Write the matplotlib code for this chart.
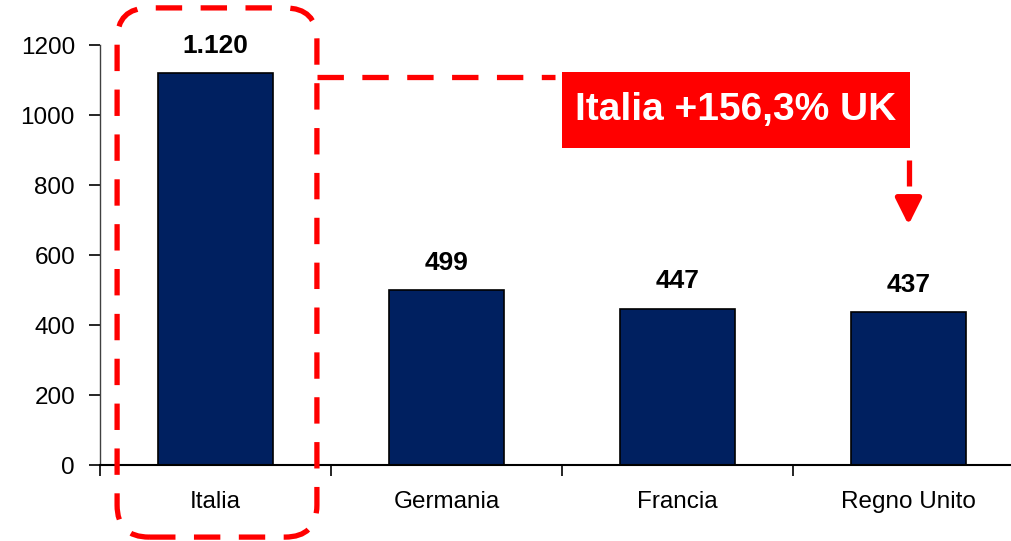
import matplotlib
matplotlib.use("Agg")
import matplotlib.pyplot as plt
from matplotlib.patches import FancyBboxPatch, Rectangle
from matplotlib.transforms import IdentityTransform

plt.rcParams.update({
    "font.family": ["Liberation Sans", "DejaVu Sans"],
    "font.size": 17.5,
})

# ── data ──────────────────────────────────────────────────────────────────────
countries = ["Italia", "Germania", "Francia", "Regno Unito"]
values = [1120, 499, 447, 437]
value_labels = ["1.120", "499", "447", "437"]
yticks = [0, 200, 400, 600, 800, 1000, 1200]
callout = "Italia +156,3% UK"

NAVY = "#002060"
RED = "#FF0000"

# ── plot ──────────────────────────────────────────────────────────────────────
W, H = 1011, 541
fig = plt.figure(figsize=(W / 100, H / 100), dpi=100)
ax = fig.add_axes([100 / W, (H - 465) / H, 924 / W, 420 / H])

x = list(range(len(countries)))
ax.bar(x, values, width=0.5, color=NAVY, edgecolor="black", linewidth=1.2, zorder=2)

ax.set_xlim(-0.5, len(countries) - 0.5)
ax.set_ylim(0, 1200)
ax.set_yticks(yticks)
ax.set_xticks(x)
ax.set_xticklabels(countries)
ax.set_xticks([i - 0.5 for i in x], minor=True)
ax.tick_params(axis="x", which="major", length=0, pad=19)
ax.tick_params(axis="x", which="minor", length=8, width=1.2, direction="out")
ax.tick_params(axis="y", length=8, width=1.2, direction="out", pad=10)

for s in ("top", "right"):
    ax.spines[s].set_visible(False)
ax.spines["left"].set_color("#404040")
ax.spines["left"].set_linewidth(1.0)
ax.spines["bottom"].set_linewidth(1.5)

for xi, v, lab in zip(x, values, value_labels):
    ax.annotate(lab, (xi, v), xytext=(0, 11), textcoords="offset points",
                ha="center", va="bottom", fontweight="bold", fontsize=19)

# dashed rounded frame around Italia (pixel coords derived from data)
fig.canvas.draw()
to_px = ax.transData.transform
x0, y_top = to_px((-0.426, 1306))
x1, y_bot = to_px((0.439, -206))
frame = FancyBboxPatch((x0, y_bot), x1 - x0, y_top - y_bot,
                       boxstyle="round,pad=0,rounding_size=32",
                       fill=False, edgecolor=RED, linewidth=3.8,
                       linestyle=(0, (5, 3.5)), transform=IdentityTransform(),
                       clip_on=False, zorder=5)
fig.add_artist(frame)

# dashed connector from the frame to the callout box
ax.plot([0.439, 1.47], [1110, 1110], color=RED, lw=3.8,
        linestyle=(0, (5, 3.5)), clip_on=False, zorder=5)

# callout box
ax.add_patch(Rectangle((1.5, 906), 1.506, 217, facecolor=RED, edgecolor="none",
                       clip_on=False, zorder=6))
ax.text(2.253, 1014, callout, color="white", fontsize=28, fontweight="bold",
        ha="center", va="center", zorder=7)

# dashed arrow down to UK
ax.plot([3, 3], [871, 797], color=RED, lw=3.8, solid_capstyle="butt", zorder=5)
ax.annotate("", xy=(3, 686), xytext=(3, 765),
            arrowprops=dict(arrowstyle="-|>,head_length=0.9,head_width=0.45",
                            lw=4, color=RED, shrinkA=0, shrinkB=0))

# cut-off title fragments at the top edge
fig.text(396 / W, 1.012, "(", color="#E8501E", fontsize=20, ha="center", va="baseline")
fig.text(600 / W, 1.012, ")", color="#E8501E", fontsize=20, ha="center", va="baseline")

fig.savefig("out.png", dpi=100)
plt.close(fig)
